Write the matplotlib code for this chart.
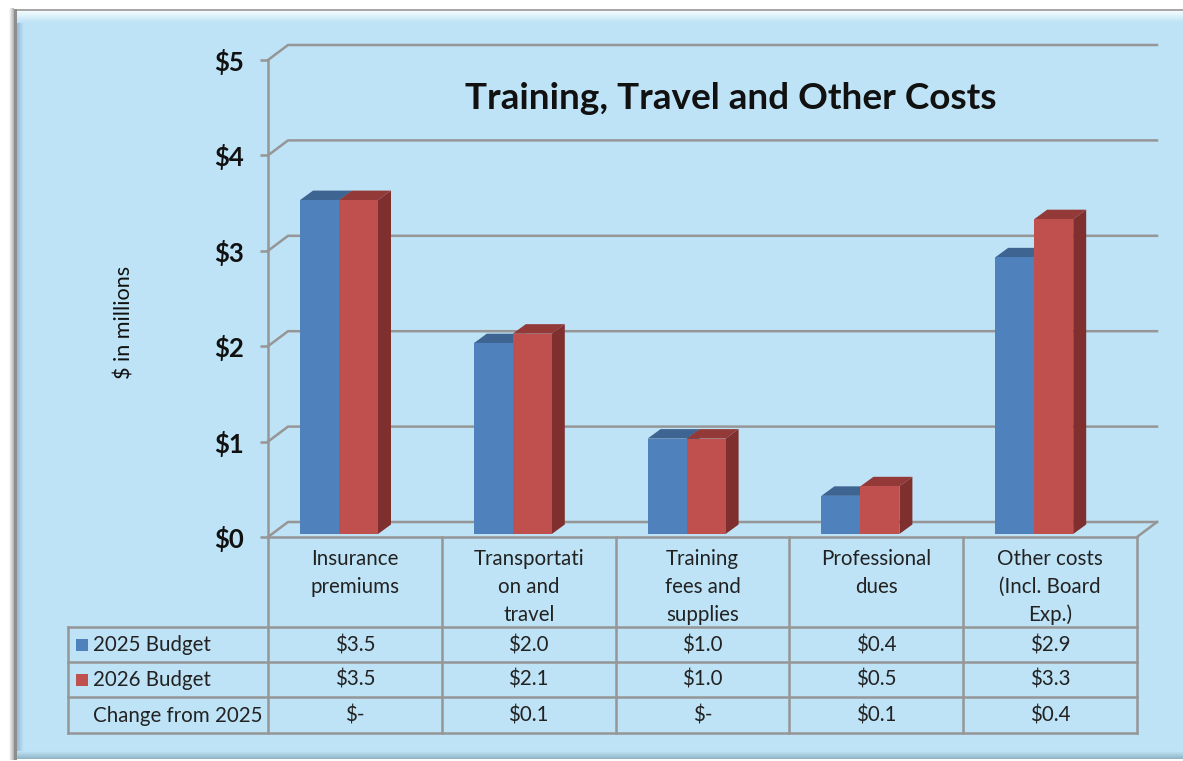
import matplotlib
matplotlib.use("Agg")
import matplotlib.pyplot as plt
from matplotlib.colors import LinearSegmentedColormap
from matplotlib.patches import Polygon, Rectangle
import numpy as np

categories = ["Insurance\npremiums", "Transportati\non and\ntravel", "Training\nfees and\nsupplies",
              "Professional\ndues", "Other costs\n(Incl. Board\nExp.)"]
budget_2025 = [3.5, 2.0, 1.0, 0.4, 2.9]
budget_2026 = [3.5, 2.1, 1.0, 0.5, 3.3]
change_labels = ["$-", "$0.1", "$-", "$0.1", "$0.4"]
row_names = ["2025 Budget", "2026 Budget", "Change from 2025"]
yticks = [0, 1, 2, 3, 4, 5]

W, H = 1183, 761
BLUE, BLUE_TOP, BLUE_SIDE = "#4F81BD", "#3E6491", "#3A6085"
RED, RED_TOP, RED_SIDE = "#C0504D", "#933A38", "#7F2F2E"
GRID = "#969696"
BG = "#BEE3F6"
LW = 1.8

plt.rcParams['font.family'] = ['Lato', 'DejaVu Sans']

fig = plt.figure(figsize=(W / 100, H / 100), dpi=100, facecolor="white")

# full figure axes in pixels, for the panel and the table
pix = fig.add_axes([0, 0, 1, 1])
pix.axis("off")

def ramp(c0, c1, extent, vertical=True):
    g = np.linspace(0, 1, 16)
    g = g.reshape(-1, 1) if vertical else g.reshape(1, -1)
    cm = LinearSegmentedColormap.from_list("r", [c0, c1])
    pix.imshow(g, extent=extent, aspect="auto", cmap=cm, origin="upper", zorder=1)

pix.add_patch(Rectangle((15, 10), W - 15, 749, fc=BG, ec="none", zorder=0))
ramp("#FFFFFF", "#B0B0B0", (9, 14, 760, 8), vertical=False)
ramp("#F2FBFD", BG, (17, W, 23, 11))
ramp(BG, "#8FB4C6", (17, W, 759, 751))
ramp("#94BBD6", BG, (17, 24, 751, 23), vertical=False)
pix.add_patch(Rectangle((14, 9), W - 14, 2, fc="#A8A8A8", ec="none", zorder=2))
pix.add_patch(Rectangle((14, 9), 3, 751, fc="#8E8E8E", ec="none", zorder=2))
pix.set_xlim(0, W)
pix.set_ylim(H, 0)

# chart axes: front plane of the 3d box
left, right, y0, y5 = 268, 1137, 537, 60
ax = fig.add_axes([left / W, 1 - y0 / H, (right - left) / W, (y0 - y5) / H])
ax.set_xlim(0, 5)
ax.set_ylim(0, 5)
ax.patch.set_alpha(0)
ax.set_xticks([])
ax.set_yticks(yticks)
ax.set_yticklabels(["$%d" % t for t in yticks], fontsize=18.5, fontweight="bold", color="#111111")
ax.tick_params(axis="y", length=6, width=LW, color=GRID, pad=11)
for s in ["top", "right"]:
    ax.spines[s].set_visible(False)
for s in ["left", "bottom"]:
    ax.spines[s].set_color(GRID)
    ax.spines[s].set_linewidth(LW)

# wall depth and bar depth, in data units
wall_dx, wall_dy = 20 / 173.8, 15 / 95.4
bar_dx, bar_dy = 13 / 173.8, 9.5 / 95.4
base = 3 / 95.4
bar_w = 39 / 173.8

for t in yticks:
    ax.plot([0, wall_dx, 5 + wall_dx], [t, t + wall_dy, t + wall_dy], color=GRID, lw=LW, clip_on=False, zorder=1)
ax.plot([5, 5 + wall_dx], [0, wall_dy], color=GRID, lw=LW, clip_on=False, zorder=1)

def draw_bar(x, v, front, top, side):
    ax.bar(x, v, bar_w, bottom=base, align="edge", color=front, zorder=3, clip_on=False)
    h = base + v
    ax.add_patch(Polygon([(x, h), (x + bar_dx, h + bar_dy), (x + bar_w + bar_dx, h + bar_dy), (x + bar_w, h)],
                         fc=top, ec="none", zorder=2, clip_on=False))
    ax.add_patch(Polygon([(x + bar_w, base), (x + bar_w + bar_dx, base + bar_dy), (x + bar_w + bar_dx, h + bar_dy),
                          (x + bar_w, h)], fc=side, ec="none", zorder=2, clip_on=False))

for i in range(len(categories)):
    x = i + 32 / 173.8
    draw_bar(x, budget_2025[i], BLUE, BLUE_TOP, BLUE_SIDE)
    draw_bar(x + bar_w, budget_2026[i], RED, RED_TOP, RED_SIDE)

pix.text(730.5, 109, "Training, Travel and Other Costs", fontsize=26.6, fontweight="bold", color="#111111",
         ha="center", va="baseline", zorder=6)
pix.text(125, 322, "$ in millions", fontsize=15.6, rotation=90, ha="center", va="center", color="#111111", zorder=6)

# data table under the chart
tx0, ty = 68, [537, 627, 662, 697, 733]
cw = (right - left) / len(categories)
TXT = "#222222"
TS = 14.8
for i in range(len(categories) + 1):
    x = left + i * cw
    pix.plot([x, x], [ty[0], ty[-1]], color=GRID, lw=LW, zorder=5)
for y in ty[1:]:
    pix.plot([tx0, right], [y, y], color=GRID, lw=LW, zorder=5)
pix.plot([tx0, tx0], [ty[1], ty[-1]], color=GRID, lw=LW, zorder=5)

rows = [["$%.1f" % v for v in budget_2025], ["$%.1f" % v for v in budget_2026], change_labels]
for r, name in enumerate(row_names):
    yb = (ty[r + 1] + ty[r + 2]) / 2 + 6.5
    pix.text(93, yb, name, fontsize=TS, ha="left", va="baseline", color=TXT, zorder=6)
    for i, lab in enumerate(rows[r]):
        pix.text(left + (i + .5) * cw, yb, lab, fontsize=TS, ha="center", va="baseline", color=TXT, zorder=6)
for r, c in enumerate([BLUE, RED]):
    yc = (ty[r + 1] + ty[r + 2]) / 2
    pix.add_patch(Rectangle((76, yc - 6), 12, 12, fc=c, ec="none", zorder=6))
for i, lab in enumerate(categories):
    for j, line in enumerate(lab.split("\n")):
        pix.text(left + (i + .5) * cw, 565 + j * 28, line, fontsize=TS, ha="center", va="baseline", color=TXT, zorder=6)

fig.savefig("out.png", dpi=100)
